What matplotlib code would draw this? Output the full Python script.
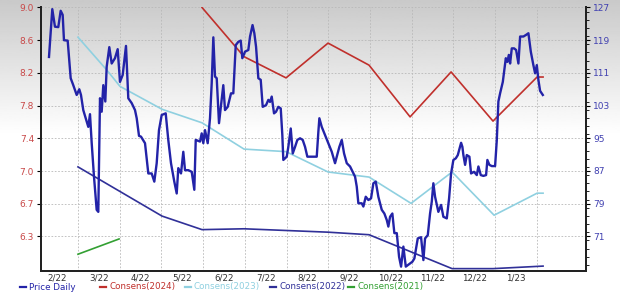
import numpy as np
import matplotlib
matplotlib.use("Agg")
import matplotlib.pyplot as plt
from matplotlib.lines import Line2D
from matplotlib.ticker import FixedLocator, MultipleLocator

# x positions are in months since 1 Feb 2022 (1.0 = 1 Mar 2022)
month_labels = ["2/22", "3/22", "4/22", "5/22", "6/22", "7/22", "8/22",
                "9/22", "10/22", "11/22", "12/22", "1/23"]

price_m = [0.305, 0.384, 0.448, 0.528, 0.585, 0.633, 0.664, 0.753, 0.825, 0.887,
           0.969, 1.031, 1.072, 1.127, 1.209, 1.247, 1.288, 1.329, 1.384, 1.448,
           1.487, 1.528, 1.568, 1.607, 1.655, 1.688, 1.751, 1.808, 1.887, 1.952,
           2.007, 2.072, 2.151, 2.206, 2.288, 2.367, 2.408, 2.463, 2.511, 2.607,
           2.686, 2.767, 2.830, 2.887, 2.942, 3.007, 3.103, 3.165, 3.230, 3.309,
           3.367, 3.405, 3.470, 3.525, 3.566, 3.645, 3.727, 3.789, 3.823, 3.926,
           3.966, 4.005, 4.046, 4.110, 4.165, 4.206, 4.245, 4.285, 4.326, 4.381,
           4.484, 4.525, 4.590, 4.669, 4.724, 4.782, 4.844, 4.902, 4.940, 5.005,
           5.084, 5.125, 5.185, 5.228, 5.269, 5.324, 5.381, 5.429, 5.508, 5.564,
           5.604, 5.645, 5.700, 5.748, 5.803, 5.861, 5.899, 5.923, 6.005, 6.043,
           6.101, 6.149, 6.204, 6.259, 6.324, 6.388, 6.444, 6.499, 6.564, 6.724,
           6.763, 6.787, 6.844, 6.923, 7.002, 7.084, 7.163, 7.204, 7.266, 7.324,
           7.379, 7.444, 7.523, 7.643, 7.683, 7.722, 7.803, 7.842, 7.899, 7.962,
           8.026, 8.082, 8.139, 8.201, 8.283, 8.345, 8.403, 8.441, 8.482, 8.537,
           8.585, 8.643, 8.698, 8.746, 8.801, 8.859, 8.962, 9.017, 9.065, 9.146,
           9.225, 9.281, 9.321, 9.386, 9.441, 9.482, 9.520, 9.561, 9.640, 9.705,
           9.760, 9.842, 9.897, 9.945, 10.000, 10.058, 10.106, 10.137, 10.185, 10.216,
           10.240, 10.281, 10.321, 10.384, 10.424, 10.496, 10.561, 10.600, 10.657, 10.719,
           10.784, 10.815, 10.863, 10.921, 11.000, 11.041, 11.079, 11.120, 11.185, 11.257,
           11.295, 11.329, 11.360, 11.400, 11.456, 11.504, 11.559, 11.600, 11.679, 11.743,
           11.799, 11.856, 11.918, 11.959, 12.000, 12.038, 12.079, 12.144]
price_v = [114.9, 126.6, 122.3, 122.2, 126.2, 125.2, 119.0, 118.9, 109.7, 108.0,
           105.6, 107.0, 105.6, 101.9, 99.1, 97.8, 100.9, 93.8, 85.6, 77.5,
           77.0, 104.8, 101.5, 108.0, 104.0, 112.5, 117.3, 113.3, 114.6, 116.8,
           108.8, 110.5, 117.6, 104.8, 103.6, 101.9, 99.9, 95.6, 95.4, 93.8,
           86.4, 86.4, 84.4, 88.9, 97.0, 100.7, 101.1, 94.6, 88.9, 84.4,
           81.5, 87.7, 86.4, 91.7, 87.2, 87.2, 86.8, 82.4, 94.6, 94.2,
           96.2, 93.8, 97.0, 93.8, 99.9, 108.5, 119.7, 110.1, 109.7, 98.7,
           108.0, 101.9, 102.7, 106.0, 106.0, 117.8, 118.6, 118.9, 114.6, 116.2,
           116.6, 119.9, 122.7, 120.7, 117.4, 109.7, 109.3, 102.7, 103.1, 104.4,
           103.9, 105.2, 101.1, 101.5, 102.7, 102.3, 95.8, 89.7, 90.5, 92.9,
           97.4, 91.3, 92.9, 94.6, 95.0, 94.6, 92.9, 90.5, 90.5, 90.5,
           96.6, 99.9, 97.8, 95.8, 93.8, 91.7, 88.9, 90.5, 92.9, 94.6,
           91.3, 88.9, 88.1, 85.6, 83.2, 79.1, 79.1, 78.3, 80.7, 79.9,
           80.3, 84.0, 84.4, 80.7, 77.5, 76.6, 75.0, 73.4, 75.8, 76.6,
           71.8, 71.8, 66.0, 63.6, 68.5, 63.6, 64.4, 64.8, 65.6, 70.5,
           70.8, 65.2, 70.5, 71.3, 76.6, 79.5, 84.0, 80.7, 77.0, 78.7,
           75.8, 75.4, 80.3, 86.4, 89.7, 90.1, 90.9, 92.1, 93.9, 92.9,
           90.9, 88.5, 90.9, 90.5, 86.4, 86.8, 86.0, 88.1, 86.0, 85.8,
           86.0, 89.7, 88.5, 88.2, 88.2, 94.6, 104.0, 106.0, 108.8, 114.6,
           113.7, 115.4, 113.3, 117.0, 117.0, 116.6, 113.3, 119.9, 119.9, 120.3,
           120.7, 116.2, 112.9, 110.9, 112.9, 109.3, 106.6, 105.6]

c2024_m = [3.974, 4.981, 5.988, 6.995, 7.978, 8.962, 9.945, 10.95, 12.007, 12.15]
c2024_v = [9.00, 8.42, 8.17, 8.58, 8.32, 7.71, 8.24, 7.66, 8.18, 8.18]

c2023_m = [1.0, 1.695, 2.007, 3.014, 3.974, 4.981, 5.988, 6.995, 7.978, 8.985,
           9.969, 10.976, 12.007, 12.15]
c2023_v = [8.65, 8.26, 8.07, 7.80, 7.64, 7.33, 7.30, 7.06, 7.00, 6.69,
           7.06, 6.55, 6.81, 6.81]

c2022_m = [1.0, 3.014, 3.974, 4.981, 6.995, 7.978, 9.969, 10.95, 12.15]
c2022_v = [7.12, 6.54, 6.38, 6.39, 6.35, 6.32, 5.92, 5.92, 5.95]

c2021_m = [1.0, 1.985]
c2021_v = [6.09, 6.27]

left_ticks = ["9.0", "8.6", "8.2", "7.8", "7.4", "7.0", "6.7", "6.3"]
right_ticks = [127, 119, 111, 103, 95, 87, 79, 71]

series_names = ["Price Daily", "Consens(2024)", "Consens(2023)", "Consens(2022)", "Consens(2021)"]

col_price = "#2323a8"
col_2024 = "#c0302c"
col_2023 = "#8fd0e0"
col_2022 = "#303098"
col_2021 = "#33a033"

fig = plt.figure(figsize=(6.2, 2.94), dpi=100)

# grey-to-white background gradient
bg = fig.add_axes([0, 0, 1, 1], zorder=-10)
grad = np.clip(np.linspace(0.79, 1.25, 256), 0, 1).reshape(-1, 1)
bg.imshow(grad, aspect="auto", cmap="gray", vmin=0, vmax=1, extent=[0, 1, 0, 1])
bg.axis("off")

ax = fig.add_axes([0.0661, 0.0782, 0.8791, 0.8963])
ax.patch.set_alpha(0)
ax2 = ax.twinx()

step = 0.3857
ax.set_ylim(5.892, 9.0)
ax.yaxis.set_major_locator(FixedLocator([9.0 - k * step for k in range(8)]))
ax.set_yticklabels(left_ticks)
ax.set_xlim(0.113, 13.18)
ax.xaxis.set_major_locator(FixedLocator(np.arange(1, 13)))
ax.xaxis.set_minor_locator(FixedLocator(np.arange(12) + 0.5))
ax.set_xticklabels([], minor=False)
ax.set_xticklabels(month_labels, minor=True)
ax.tick_params(axis="x", which="both", length=0, labelsize=6.3, labelcolor="#333333", pad=1.5)
ax.tick_params(axis="y", length=3, width=0.8, labelsize=6.5, labelcolor="#c84848", pad=2)
ax.grid(True, which="major", color="#b8b8b8", linestyle=(0, (2, 2)), linewidth=0.6)

ax2.set_ylim(62.53, 127)
ax2.set_yticks(right_ticks)
ax2.yaxis.set_minor_locator(MultipleLocator(2))
ax2.tick_params(axis="y", which="major", length=3, width=0.8, labelsize=6.5,
                labelcolor="#4040b0", pad=2)
ax2.tick_params(axis="y", which="minor", length=2, width=0.6)

for a in (ax, ax2):
    a.spines["top"].set_visible(False)
    for s in ("left", "right", "bottom"):
        a.spines[s].set_color("#222222")
        a.spines[s].set_linewidth(1.4)

ax.plot(c2021_m, c2021_v, color=col_2021, lw=1.2)
ax.plot(c2022_m, c2022_v, color=col_2022, lw=1.2)
ax.plot(c2023_m, c2023_v, color=col_2023, lw=1.2)
ax.plot(c2024_m, c2024_v, color=col_2024, lw=1.2)
ax2.plot(price_m, price_v, color=col_price, lw=1.7)

# legend row drawn by hand so the spacing follows the original
cols = [col_price, col_2024, col_2023, col_2022, col_2021]
leg_x = [20, 100, 185, 270, 348]
leg_y = 1 - 287 / 294
for x, name, c in zip(leg_x, series_names, cols):
    fig.add_artist(Line2D([x / 620, (x + 6) / 620], [leg_y, leg_y], color=c, lw=1.6))
    fig.text((x + 9) / 620, leg_y, name, color=c, fontsize=6.3, va="center", ha="left")

fig.savefig("out.png", dpi=100)
